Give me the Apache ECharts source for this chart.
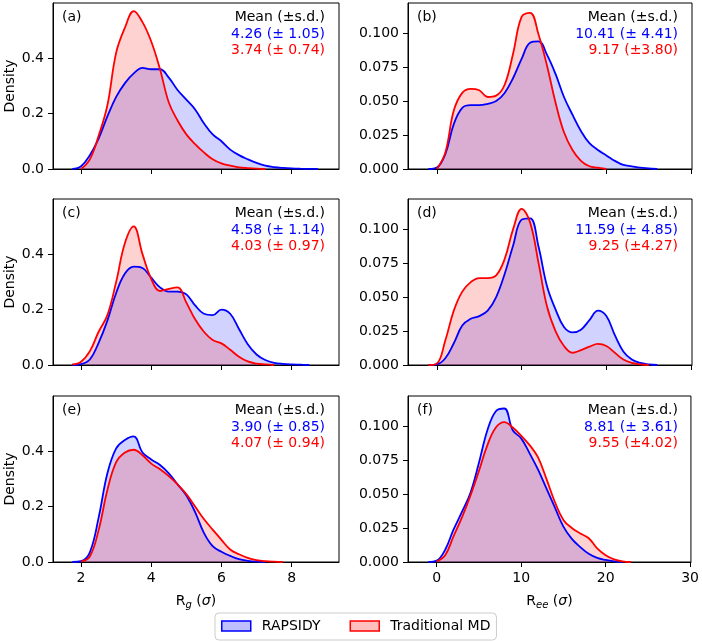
<!DOCTYPE html>
<html><head><meta charset="utf-8">
<script src="https://cdn.jsdelivr.net/npm/echarts@6/dist/echarts.min.js"></script>
<style>html,body{margin:0;padding:0;background:#fff}#c{width:702px;height:642px}</style>
</head><body><div id="c"></div>
<script>
const xRg  = [1.5,1.75,2.0,2.25,2.5,2.75,3.0,3.25,3.5,3.75,4.0,4.25,4.5,4.75,5.0,5.25,5.5,5.75,6.0,6.25,6.5,6.75,7.0,7.25,7.5,7.75,8.0,8.25,8.5,8.75,9.0];
const xRee = [-2,-1,0,1,2,3,4,5,6,7,8,9,10,11,12,13,14,15,16,17,18,19,20,21,22,23,24,25,26,27,28];

// ---- tick labels ----
const rgTicks = [2,4,6,8];
const reeTicks = [0,10,20,30];
const rgDensityTicks = [0,0.2,0.4];
const reeDensityTicks = [0,0.025,0.05,0.075,0.1];

const seriesNames = ['RAPSIDY','Traditional MD'];
const panelLabels = ['(a)','(b)','(c)','(d)','(e)','(f)'];
const meanHeader = 'Mean (\u00b1s.d.)';
const meanRapsidy = ['4.26 (\u00b1 1.05)','10.41 (\u00b1 4.41)','4.58 (\u00b1 1.14)','11.59 (\u00b1 4.85)','3.90 (\u00b1 0.85)','8.81 (\u00b1 3.61)'];
const meanTraditional = ['3.74 (\u00b1 0.74)','9.17 (\u00b13.80)','4.03 (\u00b1 0.97)','9.25 (\u00b14.27)','4.07 (\u00b1 0.94)','9.55 (\u00b14.02)'];

// ---- density values ----
// (a) Rg
const aRapsidy     = [null,0,0.01,0.05,0.11,0.19,0.26,0.31,0.345,0.365,0.36,0.36,0.33,0.285,0.25,0.215,0.165,0.125,0.10,0.07,0.05,0.035,0.022,0.012,0.007,0.004,0.002,0.001,0.0005,0,null];
const aTraditional = [null,null,0,0.035,0.12,0.23,0.42,0.51,0.57,0.53,0.46,0.36,0.24,0.175,0.125,0.09,0.06,0.035,0.02,0.012,0.006,0.003,0.001,0,null,null,null,null,null,null,null];
// (b) Ree
const bRapsidy     = [null,0,0.001,0.011,0.033,0.045,0.047,0.047,0.048,0.05,0.056,0.067,0.081,0.093,0.094,0.084,0.07,0.053,0.04,0.028,0.019,0.014,0.01,0.006,0.003,0.002,0.001,0.0005,0,null,null];
const bTraditional = [null,null,0,0.012,0.043,0.056,0.059,0.058,0.053,0.054,0.062,0.085,0.112,0.115,0.099,0.076,0.049,0.027,0.014,0.006,0.002,0.001,0,null,null,null,null,null,null,null,null];
// (c) Rg
const cRapsidy     = [null,0,0.003,0.02,0.08,0.16,0.26,0.33,0.355,0.35,0.315,0.28,0.265,0.265,0.255,0.215,0.185,0.18,0.2,0.185,0.13,0.075,0.038,0.018,0.008,0.004,0.002,0.001,0,null,null];
const cTraditional = [null,0.002,0.012,0.05,0.12,0.18,0.3,0.44,0.5,0.4,0.31,0.267,0.275,0.28,0.225,0.165,0.12,0.09,0.078,0.055,0.03,0.013,0.005,0.002,0,null,null,null,null,null,null];
// (d) Ree
const dRapsidy     = [null,0,0.0005,0.005,0.016,0.029,0.034,0.036,0.04,0.05,0.067,0.088,0.107,0.108,0.087,0.058,0.041,0.028,0.024,0.026,0.033,0.04,0.036,0.022,0.01,0.004,0.0015,0.0005,0,null,null];
const dTraditional = [null,0,0.001,0.018,0.04,0.054,0.061,0.064,0.064,0.066,0.078,0.1,0.115,0.105,0.075,0.043,0.025,0.014,0.009,0.011,0.0135,0.0155,0.014,0.009,0.004,0.0015,0.0005,0,null,null,null];
// (e) Rg
const eRapsidy     = [null,0,0.003,0.035,0.16,0.32,0.41,0.44,0.453,0.395,0.37,0.35,0.32,0.28,0.24,0.18,0.105,0.057,0.037,0.022,0.01,0.004,0.001,0,null,null,null,null,null,null,null];
const eTraditional = [null,null,0.002,0.02,0.115,0.26,0.36,0.395,0.405,0.385,0.355,0.335,0.31,0.28,0.245,0.2,0.155,0.117,0.08,0.045,0.028,0.015,0.007,0.003,0.001,0,null,null,null,null,null];
// (f) Ree
const fRapsidy     = [null,0,0.001,0.009,0.024,0.037,0.051,0.073,0.097,0.111,0.113,0.097,0.091,0.08,0.068,0.054,0.04,0.026,0.017,0.011,0.006,0.003,0.0015,0.0005,0,null,null,null,null,null,null];
const fTraditional = [null,null,0.0005,0.005,0.019,0.033,0.049,0.067,0.086,0.099,0.103,0.099,0.093,0.086,0.077,0.061,0.044,0.031,0.025,0.021,0.0175,0.01,0.005,0.002,0.0005,0,null,null,null,null,null];

const rapsidyData = [aRapsidy,bRapsidy,cRapsidy,dRapsidy,eRapsidy,fRapsidy];
const traditionalData = [aTraditional,bTraditional,cTraditional,dTraditional,eTraditional,fTraditional];

// ---- layout ----
const FONT = 'DejaVu Sans';
const BLUE = '#0000ff', RED = '#ff0000';
const colLeft = [53, 408], colWidth = [286, 284];
const rowTop = [3, 199, 396], rowHeight = 166;
const colXRange = [[1.2, 9.35], [-3.4, 30.1]];
const colYMax = [0.599, 0.1222];

function pairs(xs, ys){ const out=[]; for(let i=0;i<xs.length;i++){ out.push([xs[i], ys[i]==null? null: ys[i]]);} return out; }

const grids=[], xAxes=[], yAxes=[], series=[], graphics=[];
for (let p=0;p<6;p++){
  const row = Math.floor(p/2), col = p%2;
  const gl = colLeft[col], gw = colWidth[col], gt = rowTop[row];
  grids.push({left:gl, top:gt, width:gw, height:rowHeight, show:true, borderColor:'#000', borderWidth:1, backgroundColor:'transparent'});
  const bottom = row===2;
  xAxes.push({
    type:'value', gridIndex:p, min:colXRange[col][0], max:colXRange[col][1],
    splitLine:{show:false},
    axisLine:{show:true, onZero:false, lineStyle:{color:'#000', width:1}},
    axisTick:{show:true, length:5, lineStyle:{color:'#000'}, customValues: col===0? rgTicks: reeTicks},
    axisLabel:{show:bottom, customValues: col===0? rgTicks: reeTicks, color:'#000', fontFamily:FONT, fontSize:14, margin:9},
    name: bottom ? (col===0 ? '{r|R}{s|g}{r| (}{i|\u03c3}{r|)}' : '{r|R}{s|ee}{r| (}{i|\u03c3}{r|)}') : '',
    nameLocation:'middle', nameGap:30,
    nameTextStyle:{color:'#000', fontFamily:FONT, fontSize:14, rich:{
      r:{fontFamily:FONT, fontSize:14, color:'#000', lineHeight:18, verticalAlign:'middle'},
      s:{fontFamily:FONT, fontSize:10, fontStyle:'italic', color:'#000', lineHeight:10, verticalAlign:'bottom'},
      i:{fontFamily:FONT, fontSize:14, fontStyle:'italic', color:'#000', lineHeight:18, verticalAlign:'middle'}
    }}
  });
  const yt = col===0? rgDensityTicks: reeDensityTicks;
  yAxes.push({
    type:'value', gridIndex:p, min:0, max:colYMax[col],
    splitLine:{show:false},
    axisLine:{show:true, onZero:false, lineStyle:{color:'#000', width:1}},
    axisTick:{show:true, length:5, lineStyle:{color:'#000'}, customValues: yt},
    axisLabel:{customValues: yt, color:'#000', fontFamily:FONT, fontSize:14, margin:9,
      formatter: v => col===0 ? v.toFixed(1) : v.toFixed(3)},
    name: col===0 ? 'Density' : '', nameLocation:'middle', nameGap:35, nameRotate:90,
    nameTextStyle:{color:'#000', fontFamily:FONT, fontSize:14}
  });
  const xs = col===0? xRg: xRee;
  [[seriesNames[0], rapsidyData[p], BLUE, 'rgba(0,0,255,0.25)'], [seriesNames[1], traditionalData[p], RED, 'rgba(255,0,0,0.25)']].forEach(([nm, ys, c, fill])=>{
    series.push({
      type:'line', name:nm, xAxisIndex:p, yAxisIndex:p, data:pairs(xs, ys),
      smooth:0.4, showSymbol:false, symbol:'none', connectNulls:false,
      lineStyle:{color:c, width:1.8}, itemStyle:{color:c},
      areaStyle:{color:fill, origin:'start'}, emphasis:{disabled:true}, animation:false
    });
  });
  const tx = gl + gw - 14, ty = gt + 14.5;
  const st = (text, fill, align, x, y) => ({type:'text', x:x, y:y, silent:true,
    style:{text:text, fill:fill, font:'14px "DejaVu Sans"', textAlign:align, textVerticalAlign:'middle', align:align, verticalAlign:'middle'}});
  graphics.push(st(panelLabels[p], '#000', 'left', gl + 9, ty));
  graphics.push(st(meanHeader, '#000', 'right', tx, ty));
  graphics.push(st(meanRapsidy[p], BLUE, 'right', tx, ty + 16.5));
  graphics.push(st(meanTraditional[p], RED, 'right', tx, ty + 33));
}

const chart = echarts.init(document.getElementById('c'), null, {renderer:'canvas'});
chart.setOption({
  animation:false,
  backgroundColor:'#fff',
  grid:grids, xAxis:xAxes, yAxis:yAxes, series:series,
  graphic:graphics,
  legend:{
    data:[
      {name:seriesNames[0], itemStyle:{color:'rgba(0,0,255,0.25)', borderColor:BLUE, borderWidth:1.5}},
      {name:seriesNames[1], itemStyle:{color:'rgba(255,0,0,0.25)', borderColor:RED, borderWidth:1.5}}
    ],
    icon:'rect', itemWidth:29, itemHeight:10, itemGap:29,
    left:215, top:613, padding:[6,6,7,6],
    borderColor:'#cccccc', borderWidth:1, borderRadius:4, backgroundColor:'rgba(255,255,255,0.8)',
    textStyle:{color:'#000', fontFamily:FONT, fontSize:14, padding:[0,0,0,6]},
    selectedMode:false
  }
});
</script></body></html>
